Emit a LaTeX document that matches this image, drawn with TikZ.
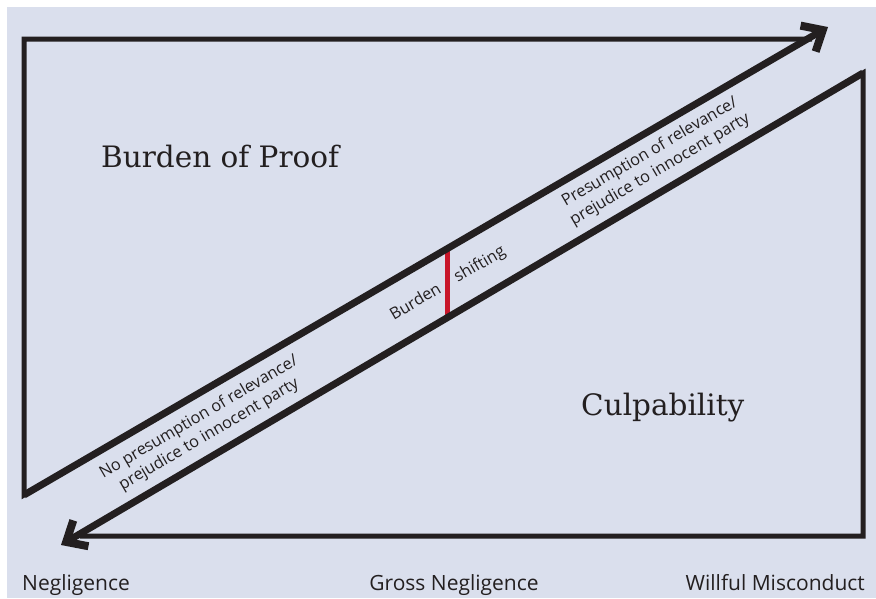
\documentclass[tikz,border=0pt]{standalone}
\usepackage{fontspec}
\newfontfamily\serifL{DejaVu Serif}
\newfontfamily\sansL{Open Sans}
\usetikzlibrary{arrows.meta,calc}
\definecolor{bgblue}{RGB}{218,223,237}
\definecolor{ink}{RGB}{35,31,32}
\definecolor{redline}{RGB}{200,22,42}
\begin{document}
\begin{tikzpicture}[x=1pt,y=-1pt,
  frame/.style={draw=ink,line width=5pt,line join=miter},
  diag/.style={draw=ink,line width=7pt,-{Straight Barb[length=17pt,width=30pt,line width=8pt]}},
  big/.style={font=\serifL\fontsize{29.5}{34}\selectfont,text=ink,inner sep=0pt},
  small/.style={font=\sansL\fontsize{16.3}{20}\selectfont,text=ink,align=center,rotate=30.4,inner sep=0pt},
  axislabel/.style={font=\sansL\fontsize{21}{24}\selectfont,text=ink,inner sep=0pt}]
\useasboundingbox (0,0) rectangle (876,598);
\fill[white] (0,0) rectangle (876,598);
\fill[bgblue] (7,7) rectangle (876,598);
\coordinate (UL) at (24,39);
\coordinate (UT) at (812,39);
\coordinate (UB) at (24,495);
\coordinate (UTip) at (828,27);
\coordinate (LR) at (863,73);
\coordinate (LB) at (863,536);
\coordinate (LL) at (80,536);
\coordinate (LTip) at (61,545);
\coordinate (R1) at (447,246);
\coordinate (R2) at (447,320);
\draw[redline,line width=5pt] (R1) -- (R2);
\draw[frame] (UT) -- (UL) -- (UB) -- ($(UB)!0.5!(UTip)$);
\draw[frame] (LL) -- (LB) -- (LR) -- ($(LR)!0.5!(LTip)$);
\draw[diag] (UB) -- (UTip);
\draw[diag] (LR) -- (LTip);
\node[big,anchor=base west] (bp) at (101,167) {Burden of Proof};
\node[big,anchor=base west] (cu) at (581,415) {Culpability};
\node[axislabel,anchor=base west] (ng) at (22,590) {Negligence};
\node[axislabel,anchor=base] (gn) at (454,590) {Gross Negligence};
\node[axislabel,anchor=base east] (wm) at (865,590) {Willful Misconduct};
\node[small] (pr) at (655,161) {Presumption of relevance/\\prejudice to innocent party};
\node[small] (np) at (204,426) {No presumption of relevance/\\prejudice to innocent party};
\node[small] (bu) at (415,301) {Burden};
\node[small] (sh) at (480,265) {shifting};
\end{tikzpicture}
\end{document}
